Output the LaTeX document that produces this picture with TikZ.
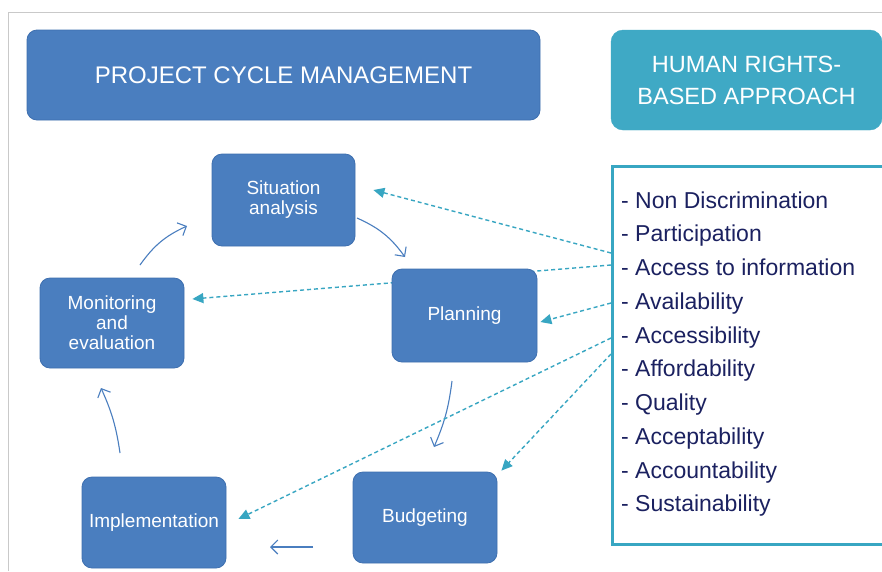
\documentclass[tikz,border=0pt]{standalone}
\usepackage{fontspec}
\setmainfont{Liberation Sans}
\usetikzlibrary{arrows.meta,calc,backgrounds}
\definecolor{boxblue}{HTML}{4A7EBF}
\definecolor{boxedge}{HTML}{3E6FAF}
\definecolor{tealfill}{HTML}{3FA9C5}
\definecolor{tealline}{HTML}{38A6C2}
\definecolor{navy}{HTML}{1B2160}
\definecolor{framegray}{HTML}{C9C9C9}
\begin{document}
\begin{tikzpicture}[x=1pt,y=-1pt,
  stage/.style={draw=boxedge, line width=0.8pt, fill=boxblue, rounded corners=10pt,
    text=white, font=\fontsize{19}{20}\selectfont, align=center, inner sep=0pt},
  cyc/.style={draw=boxblue, line width=1.1pt, -{Straight Barb[length=7pt,width=14pt]}},
  hr/.style={draw=tealline, line width=1.4pt, dash pattern=on 4pt off 3pt,
    -{Triangle[length=11pt,width=10pt]}},
  listitem/.style={anchor=base west, text=navy, font=\fontsize{23}{27}\selectfont, inner sep=0pt}]

\useasboundingbox (0,0) rectangle (882,571);
\clip (0,0) rectangle (882,571);

% headers
\node[stage, minimum width=513pt, minimum height=90pt, font=\fontsize{24}{28}\selectfont]
  (pcm) at (283.5,75) {PROJECT CYCLE MANAGEMENT};
\node[draw=tealfill, fill=tealfill, rounded corners=12pt, minimum width=271pt, minimum height=100pt,
  text=white, align=center, inner sep=0pt, font=\fontsize{23.5}{32}\selectfont]
  (hrba) at (746.5,80) {HUMAN RIGHTS-\\BASED APPROACH};

% list box
\node[draw=tealline, line width=3pt, minimum width=290pt, minimum height=378pt, anchor=north west,
  inner sep=0pt] (list) at (611,165) {};
\foreach \t [count=\i from 0] in {Non Discrimination, Participation, Access to information,
  Availability, Accessibility, Affordability, Quality, Acceptability, Accountability, Sustainability}
  \node[listitem] (item\i) at (621,208+33.75*\i) {- \t};

% cycle stages
\node[stage, minimum width=143pt, minimum height=92pt] (sit) at (283.5,200) {Situation\\analysis};
\node[stage, minimum width=145pt, minimum height=93pt] (plan) at (464.5,315.5) {Planning};
\node[stage, minimum width=144pt, minimum height=91pt] (bud) at (425,517.5) {Budgeting};
\node[stage, minimum width=144pt, minimum height=91pt] (impl) at (154,522.5) {Implementation};
\node[stage, minimum width=144pt, minimum height=90pt] (mon) at (112,323) {Monitoring\\and\\evaluation};

\begin{scope}[on background layer]
  \fill[white] (0,0) rectangle (882,571);
  \draw[framegray, line width=1pt] (8,571) -- (8,12) -- (882,12);
  \draw[hr] ($(list.north west)+(0,100)$) -- ($(mon.east)+(8,-24)$);
\end{scope}

% cycle arrows
\coordinate (c1a) at (357,218); \coordinate (c1b) at (405,257);
\coordinate (c2a) at (452,381); \coordinate (c2b) at (434,447);
\coordinate (c3a) at (313,547); \coordinate (c3b) at (270,547);
\coordinate (c4a) at (120,453); \coordinate (c4b) at (101,388);
\coordinate (c5a) at (140,265); \coordinate (c5b) at (187,226);
\draw[cyc] (c1a) to[bend left=15] (c1b);
\draw[cyc] (c2a) to[bend left=8] (c2b);
\draw[cyc] (c3a) -- (c3b);
\draw[cyc] (c4a) to[bend right=8] (c4b);
\draw[cyc] (c5a) to[bend left=15] (c5b);

% HRBA dashed arrows
\draw[hr] ($(list.north west)+(0,88)$) -- ($(sit.east)+(18,-10)$);
\draw[hr] ($(list.north west)+(0,138)$) -- ($(plan.east)+(3,6.5)$);
\draw[hr] ($(list.north west)+(0,173)$) -- ($(impl.east)+(12,-3.5)$);
\draw[hr] ($(list.north west)+(0,189)$) -- ($(bud.north east)+(4,-1)$);
\end{tikzpicture}
\end{document}
